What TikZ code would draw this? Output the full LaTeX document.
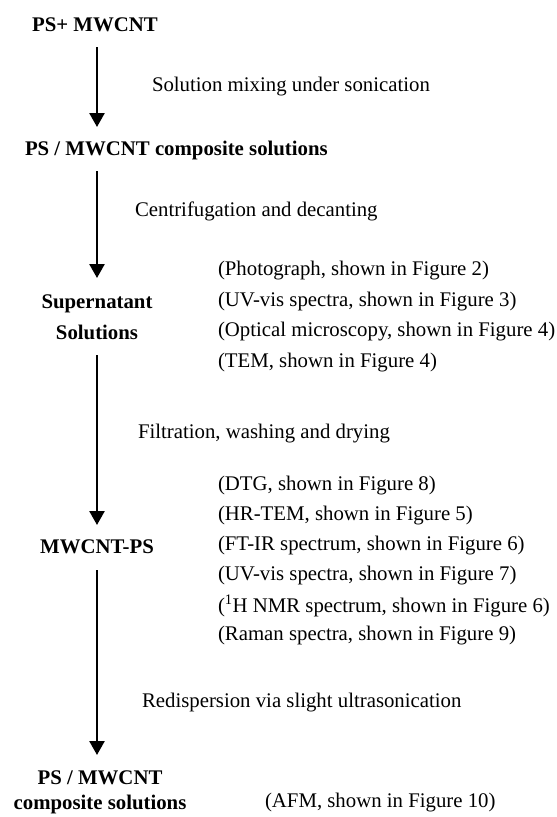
\documentclass[tikz,border=0pt]{standalone}
\usepackage{fontspec}
\setmainfont{Liberation Serif}
\usetikzlibrary{arrows.meta}
\begin{document}
\begin{tikzpicture}[x=1pt,y=-1pt,
  every node/.style={inner sep=0pt, outer sep=0pt, font=\fontsize{20.8}{30.7}\selectfont},
  stage/.style={font=\fontsize{20.8}{30.7}\selectfont\bfseries, align=center},
  steplabel/.style={anchor=west},
  info/.style={anchor=west},
  flow/.style={line width=2.6pt, -{Triangle[width=15pt,length=14pt]}}
]
\useasboundingbox (0,0) rectangle (557,817);
% stages
\node[stage] (a) at (95,25) {PS+ MWCNT};
\node[stage, anchor=west] (b) at (25,150) {PS / MWCNT composite solutions};
\node[stage] (c) at (97,317.5) {Supernatant\\Solutions};
\node[stage] (d) at (97,547) {MWCNT-PS};
\node[stage, font=\fontsize{20.8}{25}\selectfont\bfseries] (e) at (100,792) {PS / MWCNT\\composite solutions};
% arrow anchors
\coordinate (a1) at (97,47);  \coordinate (b1) at (97,127);
\coordinate (b2) at (97,171); \coordinate (c1) at (97,278);
\coordinate (c2) at (97,355); \coordinate (d1) at (97,525);
\coordinate (d2) at (97,570); \coordinate (e1) at (97,755);
\draw[flow] (a1) -- (b1);
\draw[flow] (b2) -- (c1);
\draw[flow] (c2) -- (d1);
\draw[flow] (d2) -- (e1);
% step labels
\node[steplabel] (s1) at (152,87) {Solution mixing under sonication};
\node[steplabel] (s2) at (135,211) {Centrifugation and decanting};
\node[steplabel] (s3) at (138,434) {Filtration, washing and drying};
\node[steplabel] (s4) at (142,703) {Redispersion via slight ultrasonication};
% characterisation
\node[info] (p1) at (218,271) {(Photograph, shown in Figure 2)};
\node[info] (p2) at (218,302) {(UV-vis spectra, shown in Figure 3)};
\node[info] (p3) at (218,332) {(Optical microscopy, shown in Figure 4)};
\node[info] (p4) at (218,363) {(TEM, shown in Figure 4)};
\node[info] (q1) at (218,486) {(DTG, shown in Figure 8)};
\node[info] (q2) at (218,516) {(HR-TEM, shown in Figure 5)};
\node[info] (q3) at (218,546) {(FT-IR spectrum, shown in Figure 6)};
\node[info] (q4) at (218,576) {(UV-vis spectra, shown in Figure 7)};
\node[info] (q5) at (218,606) {(\textsuperscript{1}H NMR spectrum, shown in Figure 6)};
\node[info] (q6) at (218,636) {(Raman spectra, shown in Figure 9)};
\node[info] (r1) at (265,803) {(AFM, shown in Figure 10)};
\end{tikzpicture}
\end{document}
